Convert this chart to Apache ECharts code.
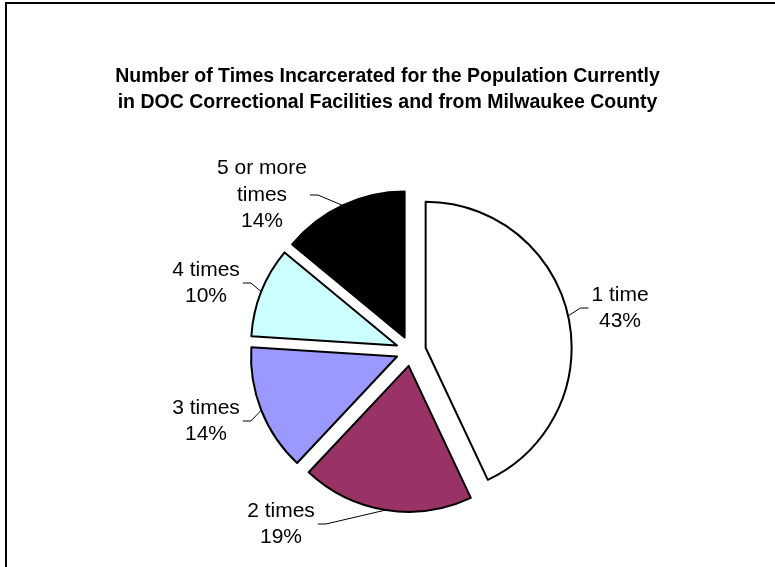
<!DOCTYPE html>
<html>
<head>
<meta charset="utf-8">
<script src="https://cdn.jsdelivr.net/npm/echarts@6/dist/echarts.min.js"></script>
<style>
html,body{margin:0;padding:0;background:#fff;}
#main{width:775px;height:567px;}
</style>
</head>
<body>
<div id="main"></div>
<script>
// ---- data ----
const categories = ['1 time', '2 times', '3 times', '4 times', '5 or more times'];
const percents = [43, 19, 14, 10, 14];
const titleLines = [
  'Number of Times Incarcerated for the Population Currently',
  'in DOC Correctional Facilities and from Milwaukee County'
];

// ---- style / layout ----
const sliceColors = ['#FFFFFF', '#993366', '#9999FF', '#CCFFFF', '#000000'];
const labelPos = [[620, 308], [281, 524], [206, 421], [206, 283], [262, 195]];
const PIE_CENTER = [411, 351];
const PIE_RADIUS = 146;
const OFFSET = 15;
const FONT = 'Liberation Sans, Arial, sans-serif';

const chart = echarts.init(document.getElementById('main'), null, {renderer: 'canvas'});

let adjust = null;

function buildOption() {
  const data = categories.map((c, i) => ({
    name: c,
    value: percents[i],
    selected: true,
    itemStyle: {color: sliceColors[i]},
    select: {itemStyle: {color: sliceColors[i], borderColor: '#000', borderWidth: 2}}
  }));
  return {
    animation: false,
    backgroundColor: '#fff',
    title: {
      text: titleLines.join('\n'),
      left: 'center',
      top: 59,
      textStyle: {fontFamily: FONT, fontSize: 19.5, fontWeight: 'bold', color: '#000', lineHeight: 26}
    },
    graphic: [{
      type: 'rect',
      shape: {x: 6, y: 3, width: 800, height: 600},
      style: {fill: 'none', stroke: '#000', lineWidth: 2},
      silent: true
    }],
    series: [{
      type: 'pie',
      center: PIE_CENTER,
      radius: PIE_RADIUS,
      startAngle: 90,
      clockwise: true,
      selectedMode: 'multiple',
      selectedOffset: OFFSET,
      avoidLabelOverlap: false,
      emphasis: {disabled: true},
      itemStyle: {borderColor: '#000', borderWidth: 2},
      label: {
        show: true,
        position: 'outside',
        alignTo: 'none',
        fontFamily: FONT,
        fontSize: 21,
        lineHeight: 26.5,
        color: '#000',
        formatter: p => {
          const n = p.name.length > 9 ? p.name.replace(/ times$/, '\ntimes') : p.name;
          return n + '\n' + p.value + '%';
        }
      },
      labelLine: {show: true, lineStyle: {color: '#000', width: 1}, length: 10, length2: 10},
      labelLayout: p => {
        const base = {align: 'center', verticalAlign: 'middle'};
        if (!adjust) return base;
        const a = adjust[p.dataIndex];
        return Object.assign(base, {dx: a.dx, dy: a.dy, labelLinePoints: a.pts});
      },
      data: data
    }]
  };
}

function measure() {
  const d = chart.getModel().getSeriesByIndex(0).getData();
  return categories.map((c, i) => {
    const label = d.getItemGraphicEl(i).getTextContent();
    const r = label.getBoundingRect().clone();
    r.applyTransform(label.getComputedTransform());
    return r;
  });
}

// first pass: let the library lay out the labels, then place them at the reference spots
chart.setOption(buildOption());
const rects = measure();
let cum = 0;
adjust = categories.map((c, i) => {
  const mid = -Math.PI / 2 + 2 * Math.PI * (cum + percents[i] / 2) / 100;
  cum += percents[i];
  const offX = OFFSET * Math.cos(mid), offY = OFFSET * Math.sin(mid);
  const ax = PIE_CENTER[0] + offX + PIE_RADIUS * Math.cos(mid);
  const ay = PIE_CENTER[1] + offY + PIE_RADIUS * Math.sin(mid);
  const t = labelPos[i];
  const r = rects[i];
  const side = ax > t[0] ? 1 : -1;
  const ex = t[0] + side * (r.width / 2 + 3);
  // the guide line lives in the (offset) slice's local frame
  const pts = [[ax, ay], [ex + side * 8, t[1]], [ex, t[1]]].map(p => [p[0] - offX, p[1] - offY]);
  return {
    dx: t[0] - (r.x + r.width / 2),
    dy: t[1] - (r.y + r.height / 2),
    pts: pts
  };
});
chart.setOption(buildOption(), true);
</script>
</body>
</html>
